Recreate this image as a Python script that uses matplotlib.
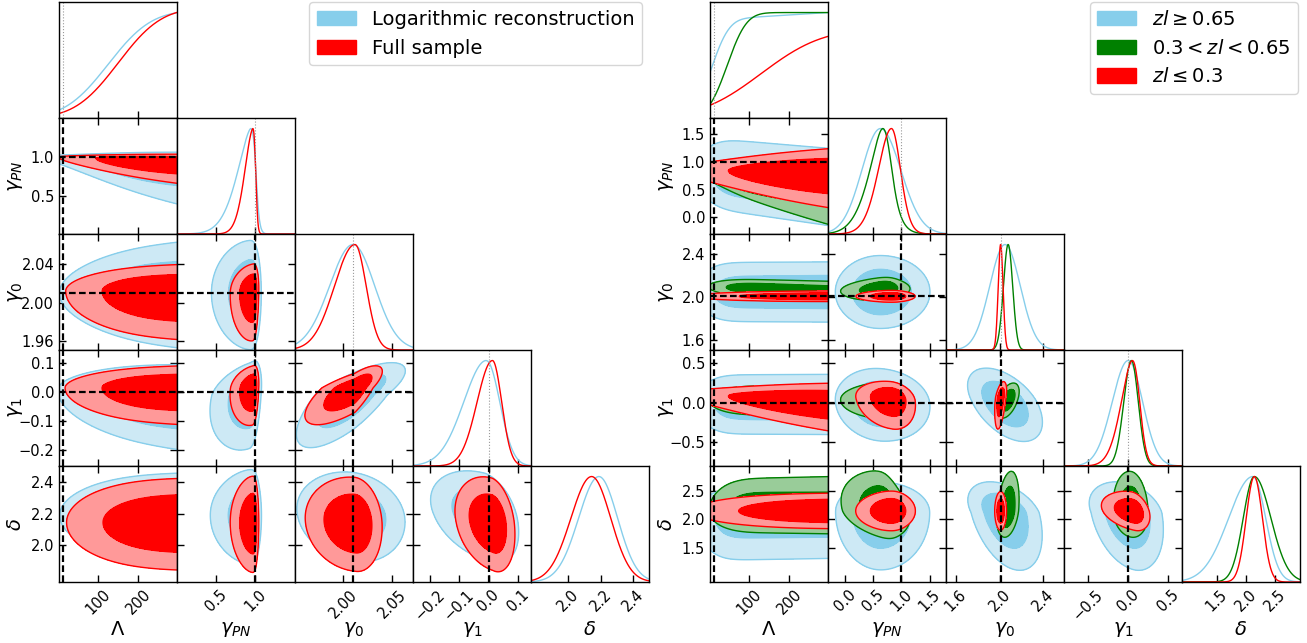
import math
import numpy as np
import matplotlib
matplotlib.use("Agg")
import matplotlib.pyplot as plt
from matplotlib.patches import Patch

W, H = 1307, 643

# ---------------- axis labels ----------------
param_labels = [r"$\Lambda$", r"$\gamma_{PN}$", r"$\gamma_0$", r"$\gamma_1$", r"$\delta$"]

# ---------------- left triangle ----------------
left_ranges = [(2, 297), (0.01, 1.5), (1.951, 2.071), (-0.257, 0.144), (1.77, 2.50)]
left_xticks = [[100, 200], [0.5, 1.0], [2.00, 2.05], [-0.2, -0.1, 0.0, 0.1], [2.0, 2.2, 2.4]]
left_xticklabels = [["100", "200"], ["0.5", "1.0"], ["2.00", "2.05"],
                    ["\u22120.2", "\u22120.1", "0.0", "0.1"], ["2.0", "2.2", "2.4"]]
left_yticks = [[], [0.5, 1.0], [1.96, 2.00, 2.04], [-0.2, -0.1, 0.0, 0.1], [2.0, 2.2, 2.4]]
left_yticklabels = [[], ["0.5", "1.0"], ["1.96", "2.00", "2.04"],
                    ["\u22120.2", "\u22120.1", "0.0", "0.1"], ["2.0", "2.2", "2.4"]]
left_truth = [11, 1.0, 2.01, 0.0, None]
left_legend = ["Logarithmic reconstruction", "Full sample"]

# series parameters: Lambda marginal [x0, width, amplitude, tilt]
# other params (gamma_PN, gamma_0, gamma_1, delta): mode, lower/upper width,
# mode shift towards Lambda=0, width factor at Lambda=0, correlations
# corr order: (PN,0), (PN,1), (PN,d), (0,1), (0,d), (1,d)
LR_lam = [125, 85, 1.02, 0.0]
LR_mode = [0.92, 2.010, -0.015, 2.19]
LR_slo = [0.26, 0.027, 0.085, 0.13]
LR_shi = [0.07, 0.025, 0.05, 0.12]
LR_shift = [0.08, 0.0, 0.02, 0.0]
LR_k0 = [0.28, 0.7, 0.75, 0.9]
LR_corr = [0.0, 0.3, 0.0, 0.75, -0.15, -0.35]

FS_lam = [150, 85, 1.045, 0.0]
FS_mode = [0.96, 2.012, 0.013, 2.145]
FS_slo = [0.14, 0.022, 0.055, 0.13]
FS_shi = [0.035, 0.012, 0.033, 0.12]
FS_shift = [0.04, 0.0, 0.0, 0.0]
FS_k0 = [0.4, 0.85, 0.85, 0.95]
FS_corr = [0.1, 0.2, 0.0, 0.75, -0.1, -0.25]

# ---------------- right triangle ----------------
right_ranges = [(2, 297), (-0.3, 1.79), (1.51, 2.59), (-0.8, 0.67), (0.9, 2.94)]
right_xticks = [[100, 200], [0.0, 0.5, 1.0, 1.5], [1.6, 2.0, 2.4], [-0.5, 0.0, 0.5], [1.5, 2.0, 2.5]]
right_xticklabels = [["100", "200"], ["0.0", "0.5", "1.0", "1.5"], ["1.6", "2.0", "2.4"],
                     ["\u22120.5", "0.0", "0.5"], ["1.5", "2.0", "2.5"]]
right_yticks = [[], [0.0, 0.5, 1.0, 1.5], [1.6, 2.0, 2.4], [-0.5, 0.0, 0.5], [1.5, 2.0, 2.5]]
right_yticklabels = [[], ["0.0", "0.5", "1.0", "1.5"], ["1.6", "2.0", "2.4"],
                     ["\u22120.5", "0.0", "0.5"], ["1.5", "2.0", "2.5"]]
right_truth = [11, 1.0, 2.01, 0.0, None]
right_legend = [r"$zl \geq 0.65$", r"$0.3 < zl < 0.65$", r"$zl \leq 0.3$"]

HI_lam = [5, 35, 1.0, 0.07]
HI_mode = [0.5, 2.05, 0.0, 2.15]
HI_slo = [0.33, 0.14, 0.2, 0.42]
HI_shi = [0.38, 0.14, 0.18, 0.22]
HI_shift = [0.25, 0.0, 0.0, -0.05]
HI_k0 = [0.9, 1.0, 1.0, 1.0]
HI_corr = [0.0, -0.1, 0.0, -0.5, -0.4, -0.3]

MID_lam = [45, 38, 1.0, 0.0]
MID_mode = [0.46, 2.06, 0.04, 2.15]
MID_slo = [0.33, 0.045, 0.10, 0.2]
MID_shi = [0.34, 0.045, 0.09, 0.3]
MID_shift = [0.3, 0.04, 0.0, 0.0]
MID_k0 = [0.2, 0.8, 0.9, 0.9]
MID_corr = [0.1, 0.0, -0.3, 0.5, 0.3, -0.1]

LO_lam = [130, 120, 0.843, 0.0]
LO_mode = [0.8, 2.01, 0.02, 2.15]
LO_slo = [0.3, 0.022, 0.18, 0.14]
LO_shi = [0.21, 0.022, 0.11, 0.14]
LO_shift = [0.05, 0.0, 0.08, 0.0]
LO_k0 = [0.5, 1.0, 0.5, 1.0]
LO_corr = [0.0, -0.2, 0.0, 0.5, 0.0, -0.3]

BLUE = ("#87ceeb", "#cde9f5")
RED = ("#ff0000", "#ff9999")
GREEN = ("#008000", "#99cc99")


def make(lam, mode, slo, shi, shift, k0, corr, col):
    return dict(lam=lam, mode=mode, slo=slo, shi=shi, shift=shift, k0=k0,
                corr=corr, main=col[0], light=col[1])


left_series = [make(LR_lam, LR_mode, LR_slo, LR_shi, LR_shift, LR_k0, LR_corr, BLUE),
               make(FS_lam, FS_mode, FS_slo, FS_shi, FS_shift, FS_k0, FS_corr, RED)]
right_series = [make(HI_lam, HI_mode, HI_slo, HI_shi, HI_shift, HI_k0, HI_corr, BLUE),
                make(MID_lam, MID_mode, MID_slo, MID_shi, MID_shift, MID_k0, MID_corr, GREEN),
                make(LO_lam, LO_mode, LO_slo, LO_shi, LO_shift, LO_k0, LO_corr, RED)]

_erf = np.vectorize(math.erf)
PAIRS = {(0, 1): 0, (0, 2): 1, (0, 3): 2, (1, 2): 3, (1, 3): 4, (2, 3): 5}


def lam_pdf(s, L, Lmax):
    x0, w, A, tilt = s["lam"]
    return A * 0.5 * (1 + _erf((L - x0) / w / np.sqrt(2))) * (1 + tilt * (L / Lmax - 1))


def cond(s, i, x, L, Lmax):
    t = L / Lmax
    m = s["mode"][i] + s["shift"][i] * (1 - t)
    k = s["k0"][i] + (1 - s["k0"][i]) * t
    d = x - m
    sig = np.where(d < 0, s["slo"][i], s["shi"][i]) * k
    return d / sig, k


def levels(D):
    v = np.sort(D.ravel())[::-1]
    c = np.cumsum(v)
    c /= c[-1]
    return v[np.searchsorted(c, 0.95)], v[np.searchsorted(c, 0.68)]


def density2d(s, ci, ri, ranges, n=140, nL=60):
    Lmax = ranges[0][1]
    xs = np.linspace(*ranges[ci], n)
    ys = np.linspace(*ranges[ri], n)
    if ci == 0:
        L = xs[None, :]
        z, k = cond(s, ri - 1, ys[:, None], L, Lmax)
        D = lam_pdf(s, L, Lmax) / k * np.exp(-0.5 * z ** 2)
    else:
        Ls = np.linspace(*ranges[0], nL)[:, None, None]
        zi, ki = cond(s, ci - 1, xs[None, None, :], Ls, Lmax)
        zj, kj = cond(s, ri - 1, ys[None, :, None], Ls, Lmax)
        rho = s["corr"][PAIRS[(ci - 1, ri - 1)]]
        Q = (zi ** 2 - 2 * rho * zi * zj + zj ** 2) / (1 - rho ** 2)
        D = (lam_pdf(s, Ls, Lmax) / (ki * kj) * np.exp(-0.5 * Q)).sum(axis=0)
    return xs, ys, D


def density1d(s, i, ranges, n=300, nL=120):
    Lmax = ranges[0][1]
    xs = np.linspace(*ranges[i], n)
    if i == 0:
        return xs, lam_pdf(s, xs, Lmax)
    Ls = np.linspace(*ranges[0], nL)[:, None]
    z, k = cond(s, i - 1, xs[None, :], Ls, Lmax)
    p = (lam_pdf(s, Ls, Lmax) / k * np.exp(-0.5 * z ** 2)).sum(axis=0)
    return xs, p / p.max()


fig = plt.figure(figsize=(W / 100, H / 100), dpi=100)
CW, RH, YTOP = 118, 116, 2
DASH = dict(color="black", lw=1.6, ls=(0, (3.0, 1.5)), zorder=20)


def triangle(x0, series, ranges, xticks, xtl, yticks, ytl, truth):
    for r in range(5):
        for c in range(r + 1):
            ax = fig.add_axes([(x0 + c * CW) / W, (H - YTOP - (r + 1) * RH) / H, CW / W, RH / H])
            for sp in ax.spines.values():
                sp.set_linewidth(1.0)
                sp.set_zorder(30)
            ax.set_xlim(*ranges[c])
            ax.set_xticks(xticks[c])
            if r == c:
                for s in series:
                    xs, p = density1d(s, c, ranges)
                    ax.plot(xs, p, color=s["main"], lw=1.0)
                ax.set_ylim(0, 1.1)
                ax.set_yticks([])
                if truth[c] is not None:
                    ax.axvline(truth[c], color="0.6", lw=0.8, ls=":")
                ax.tick_params(direction="in", top=False, right=False, length=5, width=1,
                               labelsize=10.5)
            else:
                for k, s in enumerate(series):
                    xs, ys, D = density2d(s, c, r, ranges)
                    l95, l68 = levels(D)
                    ax.contourf(xs, ys, D, levels=[l95, l68, D.max() * 1.01],
                                colors=[s["light"], s["main"]], zorder=2 + 2 * k)
                    ax.contour(xs, ys, D, levels=[l95, l68], colors=[s["main"]],
                               linewidths=1.0, zorder=2.5 + 2 * k)
                ax.set_ylim(*ranges[r])
                ax.set_yticks(yticks[r])
                if truth[c] is not None:
                    ax.axvline(truth[c], **DASH)
                if truth[r] is not None:
                    ax.axhline(truth[r], **DASH)
                ax.tick_params(direction="in", top=True, right=True, length=5, width=1,
                               labelsize=10.5)
            if r == 4:
                ax.set_xticklabels(xtl[c], rotation=45)
                ax.set_xlabel(param_labels[c], fontsize=14)
                ax.xaxis.set_label_coords(0.5, -0.33)
            else:
                ax.set_xticklabels([])
            if c == 0 and r > 0:
                ax.set_yticklabels(ytl[r])
                ax.set_ylabel(param_labels[r], fontsize=14)
                ax.yaxis.set_label_coords(-0.29, 0.5)
            elif r != c:
                ax.set_yticklabels([])


triangle(59, left_series, left_ranges, left_xticks, left_xticklabels,
         left_yticks, left_yticklabels, left_truth)
triangle(710, right_series, right_ranges, right_xticks, right_xticklabels,
         right_yticks, right_yticklabels, right_truth)

fig.legend([Patch(color=s["main"]) for s in left_series], left_legend,
           loc="upper right", bbox_to_anchor=(642 / W, 1 - 2 / H), fontsize=14,
           handlelength=2.0, handleheight=0.75, borderaxespad=0)
fig.legend([Patch(color=s["main"]) for s in right_series], right_legend,
           loc="upper right", bbox_to_anchor=(1298 / W, 1 - 2 / H), fontsize=14,
           handlelength=2.0, handleheight=0.75, borderaxespad=0)

fig.savefig("out.png", dpi=100)
